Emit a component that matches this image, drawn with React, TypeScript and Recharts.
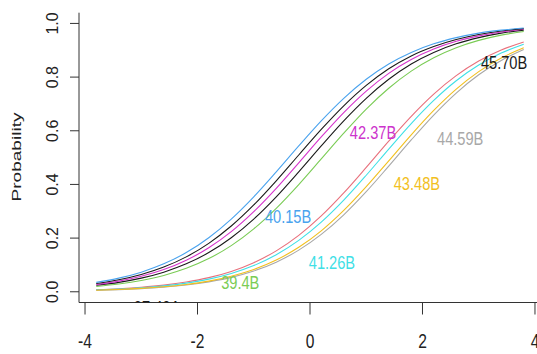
import React from "react";
import { LineChart, Line, XAxis, YAxis, ReferenceDot } from "recharts";

const thetas = [-3.8, -3.4, -3.0, -2.6, -2.2, -1.8, -1.4, -1.0, -0.6, -0.2, 0.2, 0.6, 1.0, 1.4, 1.8, 2.2, 2.6, 3.0, 3.4, 3.8];

const blueCurve = [0.035, 0.0508, 0.0731, 0.104, 0.146, 0.2015, 0.271, 0.354, 0.447, 0.5436, 0.637, 0.721, 0.792, 0.849, 0.892, 0.924, 0.947, 0.964, 0.975, 0.983];
const black1Curve = [0.0307, 0.0446, 0.0643, 0.092, 0.13, 0.1805, 0.245, 0.3236, 0.4136, 0.5097, 0.605, 0.693, 0.769, 0.831, 0.879, 0.914, 0.94, 0.9586, 0.9716, 0.9805];
const magentaCurve = [0.0274, 0.0398, 0.0576, 0.0827, 0.1174, 0.164, 0.224, 0.2986, 0.3856, 0.4806, 0.577, 0.668, 0.748, 0.814, 0.8656, 0.9046, 0.9333, 0.9537, 0.9681, 0.9782];
const black2Curve = [0.024, 0.035, 0.0508, 0.0731, 0.104, 0.146, 0.2015, 0.271, 0.354, 0.447, 0.5436, 0.637, 0.721, 0.792, 0.849, 0.892, 0.924, 0.947, 0.964, 0.975];
const greenCurve = [0.0198, 0.029, 0.0422, 0.0609, 0.0873, 0.1236, 0.172, 0.2345, 0.311, 0.3995, 0.495, 0.591, 0.681, 0.7586, 0.8224, 0.8722, 0.9096, 0.9368, 0.9563, 0.97];
const redCurve = [0.0078, 0.0114, 0.0168, 0.0247, 0.0362, 0.0526, 0.0759, 0.1084, 0.1525, 0.2103, 0.2827, 0.3684, 0.4633, 0.561, 0.654, 0.7367, 0.8055, 0.8597, 0.9007, 0.9307];
const cyanCurve = [0.0069, 0.0102, 0.015, 0.022, 0.0323, 0.047, 0.0681, 0.0976, 0.138, 0.1914, 0.2594, 0.3414, 0.4342, 0.5318, 0.627, 0.7132, 0.7864, 0.8449, 0.8897, 0.9227];
const goldCurve = [0.0058, 0.0085, 0.0126, 0.0186, 0.0272, 0.0397, 0.0577, 0.0831, 0.1183, 0.1656, 0.227, 0.303, 0.3915, 0.4878, 0.585, 0.6759, 0.7553, 0.8204, 0.8712, 0.909];
const grayCurve = [0.0054, 0.0079, 0.0117, 0.0172, 0.0252, 0.0369, 0.0536, 0.0773, 0.1104, 0.1551, 0.2137, 0.2868, 0.373, 0.4683, 0.5658, 0.6585, 0.7406, 0.8087, 0.862, 0.9025];

const xTicks = [-4, -2, 0, 2, 4];
const yTicks = [0, 0.2, 0.4, 0.6, 0.8, 1.0];

const labelTexts = ["45.70B", "42.37B", "44.59B", "43.48B", "40.15B", "41.26B", "39.4B", "37.42A"];
const labelX = [3.45, 1.12, 2.67, 1.9, -0.39, 0.39, -1.24, -2.72];
const labelY = [0.854, 0.593, 0.572, 0.405, 0.28, 0.112, 0.037, -0.058];
const labelColors = ["#1a1a1a", "#cc33cc", "#a8a8a8", "#f2c01e", "#4aa3ee", "#3fe0e6", "#7acc55", "#1a1a1a"];

const series = [
  { key: "red", values: redCurve, color: "#e8707c" },
  { key: "cyan", values: cyanCurve, color: "#3fe0e6" },
  { key: "gray", values: grayCurve, color: "#a8a8a8" },
  { key: "gold", values: goldCurve, color: "#f2c01e" },
  { key: "green", values: greenCurve, color: "#7acc55" },
  { key: "black2", values: black2Curve, color: "#1a1a1a" },
  { key: "magenta", values: magentaCurve, color: "#d633cc" },
  { key: "black1", values: black1Curve, color: "#1a1a1a" },
  { key: "blue", values: blueCurve, color: "#4aa3ee" },
];

const rows = thetas.map((t, i) => {
  const r: Record<string, number> = { theta: t };
  series.forEach((s) => {
    r[s.key] = s.values[i];
  });
  return r;
});

const FONT = "'Liberation Sans', Arial, Helvetica, sans-serif";

const XTick = (props: any) => {
  const { x, payload } = props;
  return (
    <text transform={`translate(${x},348) scale(0.78,1)`} textAnchor="middle" fontSize={20} fill="#222" fontFamily={FONT}>
      {payload.value}
    </text>
  );
};

const YTick = (props: any) => {
  const { y, payload } = props;
  return (
    <text transform={`translate(58.2,${y}) rotate(-90)`} textAnchor="middle" fontSize={16} fill="#222" fontFamily={FONT}>
      {Number(payload.value).toFixed(1)}
    </text>
  );
};

const ProbLabel = () => (
  <text transform="translate(21.4,157) rotate(-90) scale(1.27,0.81)" textAnchor="middle" fontSize={15} fill="#222" fontFamily={FONT}>
    Probability
  </text>
);

const makeLabelShape = (text: string, color: string, idx: number) => (p: any) => (
  <g>
    <defs>
      <clipPath id={`lblclip${idx}`}>
        <rect x={0} y={0} width={560} height={302.5} />
      </clipPath>
    </defs>
    <g clipPath={`url(#lblclip${idx})`}>
      <text transform={`translate(${p.cx},${p.cy + 6.8}) scale(0.77,1)`} textAnchor="middle" fontSize={19} fill={color} fontFamily={FONT}>
        {text}
      </text>
    </g>
  </g>
);

export default function App() {
  return (
    <div style={{ position: "absolute", left: 0, top: 0, width: 537, height: 354, overflow: "hidden", background: "#fff" }}>
      <LineChart width={560} height={354} data={rows} margin={{ top: 12.7, right: 19, bottom: 0, left: 0 }}>
        <XAxis
          dataKey="theta"
          type="number"
          domain={[-4.107, 4.107]}
          allowDataOverflow
          ticks={xTicks}
          tick={<XTick />}
          tickSize={12}
          height={51.5}
          axisLine={{ stroke: "#333", strokeWidth: 1 }}
          tickLine={{ stroke: "#333", strokeWidth: 1 }}
        />
        <XAxis
          xAxisId="top"
          orientation="top"
          dataKey="theta"
          type="number"
          domain={[-4.107, 4.107]}
          allowDataOverflow
          tick={false}
          tickLine={false}
          height={0}
          axisLine={{ stroke: "#333", strokeWidth: 1 }}
        />
        <YAxis
          type="number"
          domain={[-0.04, 1.04]}
          allowDataOverflow
          ticks={yTicks}
          tick={<YTick />}
          tickSize={9}
          width={79}
          axisLine={{ stroke: "#333", strokeWidth: 1 }}
          tickLine={{ stroke: "#333", strokeWidth: 1 }}
          label={<ProbLabel />}
        />
        {series.map((s) => (
          <Line
            key={s.key}
            dataKey={s.key}
            type="monotone"
            stroke={s.color}
            strokeWidth={1.1}
            dot={false}
            activeDot={false}
            isAnimationActive={false}
          />
        ))}
        {labelTexts.map((t, i) => (
          <ReferenceDot
            key={t}
            x={labelX[i]}
            y={labelY[i]}
            r={1}
            ifOverflow="visible"
            shape={makeLabelShape(t, labelColors[i], i)}
          />
        ))}
      </LineChart>
    </div>
  );
}
